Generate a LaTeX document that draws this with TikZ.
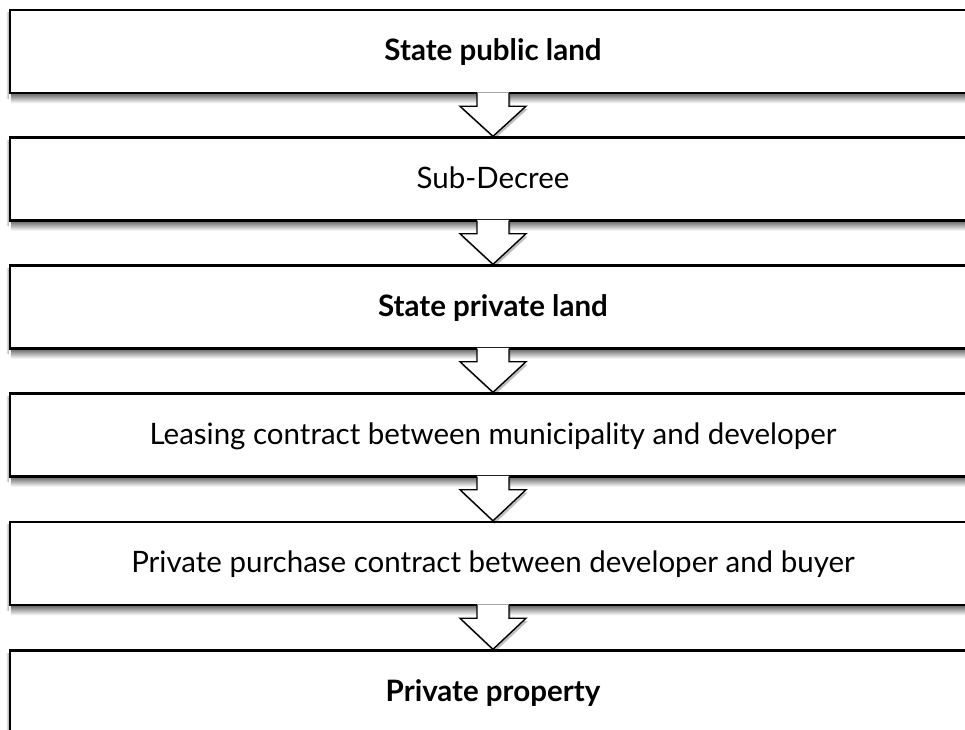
\documentclass[tikz,border=0pt]{standalone}
\usepackage{fontspec}
\setmainfont{Lato}
\usetikzlibrary{calc,shadows,backgrounds}
\tikzset{
  box/.style={draw=black, line width=2.4pt, fill=white, minimum width=966pt, minimum height=83pt,
    inner sep=0pt, text height=21pt, text depth=3pt, font=\fontsize{29.5}{34}\selectfont},
  shadowband/.style={top color=black!55, bottom color=white, draw=none},
  arrowfill/.style={fill=white, drop shadow={shadow xshift=1.5pt, shadow yshift=-3pt, opacity=0.25, fill=black}},
  arrowline/.style={draw=black, line width=1.4pt, line join=miter}
}
\begin{document}
\begin{tikzpicture}[x=1pt,y=-1pt]
\useasboundingbox (0,0) rectangle (965,729);
\node[box] (b1) at (493,51.5) {\bfseries State public land};
\node[box] (b2) at (493,179) {Sub-Decree};
\node[box] (b3) at (493,307) {\bfseries State private land};
\node[box] (b4) at (493,435) {Leasing contract between municipality and developer};
\node[box] (b5) at (493,563.5) {Private purchase contract between developer and buyer};
\node[box] (b6) at (493,692) {\bfseries Private property};
\begin{scope}[on background layer]
\foreach \a in {b1,b2,b3,b4,b5}{
  \shade[shadowband] ([xshift=2pt]\a.south west) rectangle ([yshift=-9pt]\a.south east);
  \shade[left color=white, right color=black!35, draw=none] ([xshift=-3pt,yshift=-4pt]\a.north west) rectangle ([yshift=-4pt]\a.south west);
}
\shade[left color=white, right color=black!35, draw=none] ([xshift=-3pt,yshift=-4pt]b6.north west) rectangle (b6.south west);
\end{scope}
\foreach \a/\b in {b1/b2,b2/b3,b3/b4,b4/b5,b5/b6}{
  \path[arrowfill] ([xshift=-16pt,yshift=1.8pt]\a.south) -- ([xshift=-16pt,yshift=-12pt]\a.south)
     -- ([xshift=-33pt,yshift=-12pt]\a.south) -- (\b.north) -- ([xshift=33pt,yshift=-12pt]\a.south)
     -- ([xshift=16pt,yshift=-12pt]\a.south) -- ([xshift=16pt,yshift=1.8pt]\a.south) -- cycle;
  \draw[arrowline] ([xshift=-16pt,yshift=1.2pt]\a.south) -- ([xshift=-16pt,yshift=-12pt]\a.south)
     -- ([xshift=-33pt,yshift=-12pt]\a.south) -- (\b.north) -- ([xshift=33pt,yshift=-12pt]\a.south)
     -- ([xshift=16pt,yshift=-12pt]\a.south) -- ([xshift=16pt,yshift=1.2pt]\a.south);
}
\end{tikzpicture}
\end{document}
